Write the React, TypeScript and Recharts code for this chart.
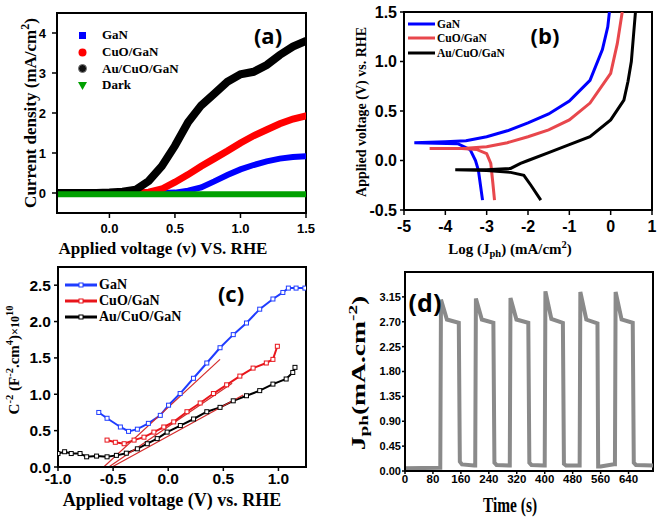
import React from 'react';
import { ComposedChart, Line, XAxis, YAxis, ReferenceArea, Legend } from 'recharts';

const SERIF = '"Liberation Serif", "Times New Roman", serif';
const SANS = '"Liberation Sans", Arial, sans-serif';
const TAG = '"Open Sans", "Noto Sans", sans-serif';

// (a) current density vs applied voltage
const aVoltage = [-0.4, -0.3, -0.2, -0.1, 0, 0.1, 0.2, 0.3, 0.4, 0.5, 0.6, 0.7, 0.8, 0.9, 1.0, 1.1, 1.2, 1.3, 1.4, 1.5];
const aGaN = [0, 0, 0, 0, 0, 0, 0, 0, 0, 0.01, 0.06, 0.14, 0.29, 0.45, 0.59, 0.7, 0.79, 0.86, 0.9, 0.92];
const aCuO = [0, 0, 0, 0, 0, 0, 0, 0.02, 0.1, 0.27, 0.46, 0.67, 0.86, 1.05, 1.25, 1.43, 1.58, 1.73, 1.85, 1.93];
const aAu = [0, 0, 0, 0, 0.01, 0.03, 0.08, 0.3, 0.67, 1.18, 1.77, 2.19, 2.48, 2.78, 2.97, 3.03, 3.2, 3.45, 3.66, 3.8];
const aDark = [-0.03, -0.03, -0.03, -0.03, -0.03, -0.03, -0.03, -0.03, -0.03, -0.03, -0.03, -0.03, -0.03, -0.03, -0.03, -0.03, -0.03, -0.03, -0.03, -0.03];
const aNames = ['GaN', 'CuO/GaN', 'Au/CuO/GaN', 'Dark'];

// (b) Tafel plots, log J vs potential, in measured order
const bGaNLog = [-3.1, -3.15, -3.2, -3.27, -3.4, -3.7, -4.75, -4.0, -3.5, -3.0, -2.5, -2.0, -1.5, -1.0, -0.5, -0.2, -0.07, -0.03];
const bGaNV = [-0.4, -0.25, -0.1, 0.0, 0.11, 0.17, 0.18, 0.19, 0.2, 0.24, 0.3, 0.38, 0.47, 0.6, 0.81, 1.12, 1.35, 1.5];
const bCuOLog = [-2.81, -2.85, -2.9, -3.0, -3.23, -3.6, -4.38, -3.5, -3.0, -2.5, -2.0, -1.5, -1.0, -0.5, 0.0, 0.16, 0.28];
const bCuOV = [-0.4, -0.23, -0.03, 0.07, 0.11, 0.12, 0.12, 0.125, 0.14, 0.18, 0.24, 0.31, 0.41, 0.58, 0.88, 1.18, 1.5];
const bAuLog = [-1.69, -1.93, -2.1, -2.42, -3.0, -3.76, -3.0, -2.42, -2.18, -2.0, -1.5, -1.0, -0.5, 0.0, 0.32, 0.42, 0.5, 0.55, 0.6];
const bAuV = [-0.4, -0.25, -0.15, -0.12, -0.1, -0.094, -0.094, -0.08, -0.03, 0.0, 0.08, 0.16, 0.24, 0.41, 0.61, 0.8, 1.0, 1.25, 1.5];
const bNames = ['GaN', 'CuO/GaN', 'Au/CuO/GaN'];

// (c) Mott-Schottky
const cGaNV = [-0.63, -0.555, -0.434, -0.36, -0.28, -0.18, -0.072, 0.003, 0.108, 0.229, 0.35, 0.47, 0.59, 0.71, 0.83, 0.95, 1.04, 1.09, 1.16, 1.24];
const cGaNC = [0.75, 0.67, 0.55, 0.49, 0.52, 0.6, 0.71, 0.85, 1.01, 1.22, 1.43, 1.64, 1.82, 1.98, 2.17, 2.31, 2.4, 2.46, 2.46, 2.46];
const cCuOV = [-0.555, -0.48, -0.4, -0.31, -0.22, -0.13, -0.04, 0.05, 0.17, 0.29, 0.41, 0.53, 0.65, 0.77, 0.89, 0.95, 0.99];
const cCuOC = [0.37, 0.34, 0.32, 0.37, 0.41, 0.48, 0.55, 0.62, 0.76, 0.88, 1.01, 1.13, 1.25, 1.36, 1.43, 1.48, 1.66];
const cAuV = [-1.0, -0.94, -0.88, -0.8, -0.74, -0.65, -0.555, -0.47, -0.38, -0.28, -0.19, -0.1, -0.01, 0.11, 0.23, 0.35, 0.47, 0.59, 0.71, 0.83, 0.95, 1.07, 1.13, 1.15];
const cAuC = [0.185, 0.21, 0.185, 0.185, 0.14, 0.15, 0.14, 0.16, 0.19, 0.25, 0.32, 0.39, 0.48, 0.57, 0.66, 0.76, 0.82, 0.91, 0.98, 1.05, 1.14, 1.21, 1.3, 1.37];
const cFitGaN = [[-0.585, 0], [0.47, 1.48]];
const cFitCuO = [[-0.54, 0], [0.58, 1.15]];
const cFitAu = [[-0.51, 0], [0.68, 0.99]];
const cNames = ['GaN', 'CuO/GaN', 'Au/CuO/GaN'];

// (d) chopped light photocurrent
const dTime = [0, 101, 103, 120, 154, 157, 163, 198, 201, 203, 220, 253, 256, 262, 298, 300, 302, 319, 353, 356, 362, 398, 400, 402, 419, 452, 455, 461, 498, 500, 502, 519, 551, 553, 560, 598, 601, 603, 620, 652, 655, 661, 710];
const dCurrent = [0.05, 0.06, 3.1, 2.74, 2.68, 0.17, 0.12, 0.1, 0.1, 3.12, 2.74, 2.68, 0.15, 0.11, 0.1, 0.1, 3.13, 2.74, 2.68, 0.15, 0.11, 0.1, 0.1, 3.25, 2.75, 2.68, 0.13, 0.1, 0.1, 0.1, 3.24, 2.74, 2.67, 0.08, 0.08, 0.12, 0.12, 3.24, 2.74, 2.68, 0.15, 0.11, 0.1];

const zip = (xs: number[], ys: number[]) => xs.map((x, i) => ({ x, y: ys[i] }));
const pairs = (p: number[][]) => p.map(([x, y]) => ({ x, y }));

const axisLine = { stroke: '#000', strokeWidth: 2 };
const tickLine = { stroke: '#000', strokeWidth: 1.5 };
const tickFont = (size: number) => ({ fill: '#000', fontSize: size, fontFamily: SANS, fontWeight: 700 });

const Sup = ({ children }: { children: React.ReactNode }) => (
  <span style={{ fontSize: '0.7em', verticalAlign: '0.55em', lineHeight: 0 }}>{children}</span>
);
const Sub = ({ children }: { children: React.ReactNode }) => (
  <span style={{ fontSize: '0.7em', verticalAlign: '-0.3em', lineHeight: 0 }}>{children}</span>
);

function VTitle({ x, y, size, sx = 1, children }: any) {
  return (
    <div style={{ position: 'absolute', left: x, top: y, transform: `translate(-50%,-50%) rotate(-90deg) scaleX(${sx})`, whiteSpace: 'nowrap', fontFamily: SERIF, fontWeight: 700, fontSize: size, lineHeight: 1, color: '#000' }}>
      {children}
    </div>
  );
}

function HTitle({ x, y, size, sx = 1, children }: any) {
  return (
    <div style={{ position: 'absolute', left: x, top: y, transform: `translate(-50%,-50%) scaleX(${sx})`, whiteSpace: 'nowrap', fontFamily: SERIF, fontWeight: 700, fontSize: size, lineHeight: 1, color: '#000' }}>
      {children}
    </div>
  );
}

function Tag({ x, y, size, text }: { x: number; y: number; size: number; text: string }) {
  return (
    <div style={{ position: 'absolute', left: x, top: y, transform: 'translate(-50%,-50%)', fontFamily: TAG, fontWeight: 700, fontSize: size, lineHeight: 1, color: '#000' }}>
      {text}
    </div>
  );
}

const aMarkers = [
  <rect x={2} y={2} width={7} height={7} fill="#0000ff" />,
  <circle cx={5.5} cy={5.5} r={4} fill="#ff0000" />,
  <circle cx={5.5} cy={5.5} r={4} fill="#111" stroke="#777" strokeWidth={1} />,
  <polygon points="1,2 10,2 5.5,10" fill="#00a000" />,
];

function LegendA() {
  return (
    <div>
      {aNames.map((n, i) => (
        <div key={n} style={{ display: 'flex', alignItems: 'center', height: 16.7 }}>
          <svg width={11} height={11} style={{ marginRight: 14 }}>{aMarkers[i]}</svg>
          <span style={{ fontFamily: SERIF, fontWeight: 700, fontSize: 13, color: '#000' }}>{n}</span>
        </div>
      ))}
    </div>
  );
}

function LegendLines({ names, colors, font, rowH, len, square }: any) {
  return (
    <div>
      {names.map((n: string, i: number) => (
        <div key={n} style={{ display: 'flex', alignItems: 'center', height: rowH }}>
          <svg width={len} height={8} style={{ marginRight: 2 }}>
            <line x1={0} y1={4} x2={len} y2={4} stroke={colors[i]} strokeWidth={3} />
            {square && <rect x={len / 2 - 2} y={2} width={4} height={4} fill="#fff" stroke={colors[i]} strokeWidth={1} />}
          </svg>
          <span style={{ fontFamily: SERIF, fontWeight: 700, fontSize: font, color: '#000' }}>{n}</span>
        </div>
      ))}
    </div>
  );
}

function PanelA() {
  const colors = ['#0000ff', '#ff0000', '#000000'];
  const series = [aGaN, aCuO, aAu];
  const widths = [6, 7, 8];
  return (
    <div style={{ position: 'absolute', left: 0, top: 0, width: 330, height: 260 }}>
      <ComposedChart width={330} height={260} margin={{ top: 13, right: 24, left: 0, bottom: 0 }}>
        <XAxis type="number" dataKey="x" domain={[-0.4, 1.5]} ticks={[0, 0.5, 1, 1.5]} allowDataOverflow
          tickFormatter={(v: number) => v.toFixed(1)} height={47} tick={tickFont(13)} tickSize={5} tickMargin={6}
          axisLine={axisLine} tickLine={tickLine} />
        <YAxis type="number" domain={[-0.5, 4.5]} ticks={[0, 1, 2, 3, 4]} allowDataOverflow width={57}
          tick={tickFont(13)} tickSize={5} tickMargin={6} axisLine={axisLine} tickLine={tickLine} />
        {series.map((s, i) => (
          <Line key={aNames[i]} data={zip(aVoltage, s)} dataKey="y" name={aNames[i]} stroke={colors[i]} strokeWidth={widths[i]}
            strokeLinecap="round" dot={false} isAnimationActive={false} />
        ))}
        <Line data={zip(aVoltage, aDark)} dataKey="y" name="Dark" stroke="#00a000" strokeWidth={6} dot={false} isAnimationActive={false} />
        <ReferenceArea x1={-0.4} x2={1.5} y1={-0.5} y2={4.5} fill="none" stroke="#000" strokeWidth={2} />
        <Legend layout="vertical" align="center" verticalAlign="middle" content={() => <LegendA />}
          wrapperStyle={{ left: 77, top: 27, width: 'auto', right: 'auto', bottom: 'auto' }} />
      </ComposedChart>
      <VTitle x={30} y={113} size={17}>Current density (mA/cm<Sup>2</Sup>)</VTitle>
      <HTitle x={163} y={248} size={17}>Applied voltage (v) VS. RHE</HTitle>
      <Tag x={268} y={35} size={22} text="(a)" />
    </div>
  );
}

function PanelB() {
  const colors = ['#0000ff', '#e8474c', '#000000'];
  const series = [zip(bGaNLog, bGaNV), zip(bCuOLog, bCuOV), zip(bAuLog, bAuV)];
  return (
    <div style={{ position: 'absolute', left: 330, top: 0, width: 331, height: 260 }}>
      <ComposedChart width={331} height={260} margin={{ top: 12, right: 9, left: 0, bottom: 0 }}>
        <XAxis type="number" dataKey="x" domain={[-5, 1]} ticks={[-5, -4, -3, -2, -1, 0, 1]} allowDataOverflow height={50}
          tick={tickFont(16)} tickSize={5} tickMargin={6} axisLine={axisLine} tickLine={tickLine} />
        <YAxis type="number" domain={[-0.5, 1.5]} ticks={[-0.5, 0, 0.5, 1, 1.5]} allowDataOverflow width={74}
          tickFormatter={(v: number) => v.toFixed(1)} tick={tickFont(16)} tickSize={4} tickMargin={3}
          axisLine={axisLine} tickLine={tickLine} />
        {series.map((s, i) => (
          <Line key={bNames[i]} data={s} dataKey="y" name={bNames[i]} stroke={colors[i]} strokeWidth={3}
            dot={false} isAnimationActive={false} />
        ))}
        <ReferenceArea x1={-5} x2={1} y1={-0.5} y2={1.5} fill="none" stroke="#000" strokeWidth={2} />
        <Legend layout="vertical" align="center" verticalAlign="middle"
          content={() => <LegendLines names={bNames} colors={colors} font={11.5} rowH={14.3} len={27} />}
          wrapperStyle={{ left: 78, top: 17, width: 'auto', right: 'auto', bottom: 'auto' }} />
      </ComposedChart>
      <VTitle x={32} y={112} size={14}>Applied voltage (V) vs. RHE</VTitle>
      <HTitle x={180} y={249} size={15}>Log (J<Sub>ph</Sub>) (mA/cm<Sup>2</Sup>)</HTitle>
      <Tag x={215} y={35} size={22} text="(b)" />
    </div>
  );
}

function squareDot(color: string) {
  return (props: any) => {
    const { cx, cy, index } = props;
    if (cx == null || cy == null) return <g key={index} />;
    return <rect key={index} x={cx - 2} y={cy - 2} width={4} height={4} fill="#fff" stroke={color} strokeWidth={1} />;
  };
}

function PanelC() {
  const colors = ['#1f3cff', '#e8151b', '#000000'];
  const series = [zip(cGaNV, cGaNC), zip(cCuOV, cCuOC), zip(cAuV, cAuC)];
  const fits = [cFitGaN, cFitCuO, cFitAu];
  return (
    <div style={{ position: 'absolute', left: 0, top: 260, width: 330, height: 260 }}>
      <ComposedChart width={330} height={260} margin={{ top: 7, right: 24, left: 0, bottom: 0 }}>
        <XAxis type="number" dataKey="x" domain={[-1, 1.25]} ticks={[-1, -0.5, 0, 0.5, 1]} allowDataOverflow height={53}
          tickFormatter={(v: number) => v.toFixed(1)} tick={tickFont(15.5)} tickSize={4} tickMargin={2}
          axisLine={axisLine} tickLine={tickLine} />
        <YAxis type="number" domain={[0, 2.75]} ticks={[0, 0.5, 1, 1.5, 2, 2.5]} allowDataOverflow width={58}
          tickFormatter={(v: number) => v.toFixed(1)} tick={tickFont(15.5)} tickSize={4} tickMargin={3}
          axisLine={axisLine} tickLine={tickLine} />
        {series.map((s, i) => (
          <Line key={cNames[i]} data={s} dataKey="y" name={cNames[i]} stroke={colors[i]} strokeWidth={2}
            dot={squareDot(colors[i])} isAnimationActive={false} />
        ))}
        {fits.map((f, i) => (
          <Line key={'fit' + i} data={pairs(f)} dataKey="y" stroke="#d42a2a" strokeWidth={1.2} dot={false}
            legendType="none" isAnimationActive={false} />
        ))}
        <ReferenceArea x1={-1} x2={1.25} y1={0} y2={2.75} fill="none" stroke="#000" strokeWidth={2} />
        <Legend layout="vertical" align="center" verticalAlign="middle"
          content={() => <LegendLines names={cNames} colors={colors} font={14} rowH={16} len={32} square />}
          wrapperStyle={{ left: 65, top: 17, width: 'auto', right: 'auto', bottom: 'auto' }} />
      </ComposedChart>
      <VTitle x={14} y={100} size={15}>C<Sup>-2</Sup> (F<Sup>-2</Sup>.cm<Sup>4</Sup>)<span style={{ fontSize: '0.8em' }}>×10</span><Sup>10</Sup></VTitle>
      <HTitle x={172} y={240} size={18}>Applied voltage (V) vs. RHE</HTitle>
      <Tag x={231} y={33} size={22} text="(c)" />
    </div>
  );
}

function PanelD() {
  return (
    <div style={{ position: 'absolute', left: 330, top: 260, width: 331, height: 260 }}>
      <ComposedChart width={331} height={260} margin={{ top: 12, right: 8, left: 0, bottom: 0 }}>
        <XAxis type="number" dataKey="x" domain={[0, 710]} ticks={[0, 80, 160, 240, 320, 400, 480, 560, 640]} allowDataOverflow
          height={49} tick={tickFont(11.5)} tickSize={3} tickMargin={1} axisLine={axisLine} tickLine={tickLine} />
        <YAxis type="number" domain={[0, 3.6]} ticks={[0, 0.45, 0.9, 1.35, 1.8, 2.25, 2.7, 3.15]} allowDataOverflow width={75}
          tickFormatter={(v: number) => v.toFixed(2)} tick={tickFont(11)} tickSize={3} tickMargin={1}
          axisLine={axisLine} tickLine={tickLine} />
        <Line data={zip(dTime, dCurrent)} dataKey="y" name="J" stroke="#8a8a8a" strokeWidth={4} dot={false}
          isAnimationActive={false} />
        <ReferenceArea x1={0} x2={710} y1={0} y2={3.6} fill="none" stroke="#000" strokeWidth={2} />
      </ComposedChart>
      <VTitle x={28} y={113} size={19} sx={1.45}>J<Sub>ph</Sub>(mA.cm<Sup>-2</Sup>)</VTitle>
      <HTitle x={180} y={245} size={22} sx={0.7}>Time (s)</HTitle>
      <Tag x={95} y={42} size={25} text="(d)" />
    </div>
  );
}

export default function App() {
  return (
    <div style={{ position: 'absolute', left: 0, top: 0, width: 661, height: 520, background: '#fff', overflow: 'hidden' }}>
      <PanelA />
      <PanelB />
      <PanelC />
      <PanelD />
    </div>
  );
}
